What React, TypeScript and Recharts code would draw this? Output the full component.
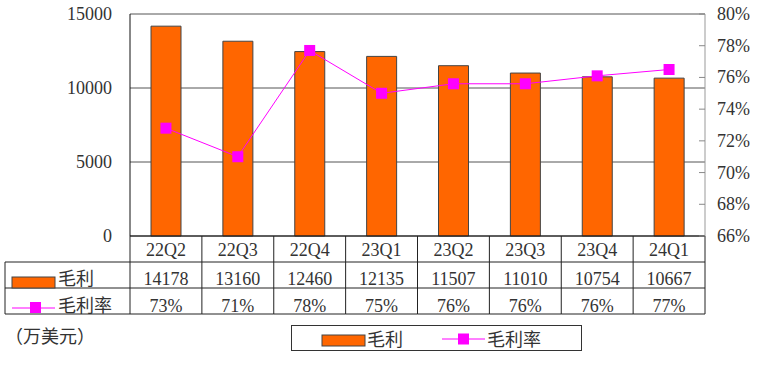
import React from 'react';
import { ComposedChart, Bar, Line, XAxis, YAxis, CartesianGrid } from 'recharts';

const categories = ['22Q2', '22Q3', '22Q4', '23Q1', '23Q2', '23Q3', '23Q4', '24Q1'];
const grossProfit = [14178, 13160, 12460, 12135, 11507, 11010, 10754, 10667];
const grossMargin = [72.8, 71.0, 77.7, 75.0, 75.6, 75.6, 76.1, 76.5];
const grossMarginLabels = ['73%', '71%', '78%', '75%', '76%', '76%', '76%', '77%'];
const leftTicks = [0, 5000, 10000, 15000];
const rightTicks = [66, 68, 70, 72, 74, 76, 78, 80];
const seriesNames = ['毛利', '毛利率'];
const unitLabel = '（万美元）';

const data = categories.map((c, i) => ({
  cat: c,
  profit: grossProfit[i],
  margin: grossMargin[i],
}));

const W = 768;
const H = 366;
const PLOT_LEFT = 130;
const PLOT_RIGHT = 705;
const PLOT_TOP = 14;
const PLOT_BOTTOM = 236;
const ROW_H = 26;
const TABLE_LEFT = 5;
const FONT = "'Liberation Serif', 'Noto Sans CJK SC', serif";
const FS = 18;
const ORANGE = '#FF6600';
const MAGENTA = '#FF00FF';
const LINE_C = '#222';
const TEXT_C = '#333';

const Square = (props: any) => {
  const { cx, cy } = props;
  if (cx == null || cy == null) return null;
  return <rect x={cx - 5.5} y={cy - 5.5} width={11} height={11} fill={MAGENTA} />;
};

const TableTick = (props: any) => {
  const { x, y, payload, index } = props;
  const band = (PLOT_RIGHT - PLOT_LEFT) / categories.length;
  const i = index;
  const l = x - band / 2;
  const r = x + band / 2;
  return (
    <g>
      <line x1={r} y1={y} x2={r} y2={y + 3 * ROW_H} stroke={LINE_C} strokeWidth={1} />
      <line x1={l} y1={y + ROW_H} x2={r} y2={y + ROW_H} stroke={LINE_C} strokeWidth={1} />
      <line x1={l} y1={y + 2 * ROW_H} x2={r} y2={y + 2 * ROW_H} stroke={LINE_C} strokeWidth={1} />
      <line x1={l} y1={y + 3 * ROW_H} x2={r} y2={y + 3 * ROW_H} stroke={LINE_C} strokeWidth={1} />
      {i === 0 && (
        <g>
          <line x1={l} y1={y} x2={l} y2={y + 3 * ROW_H} stroke={LINE_C} strokeWidth={1} />
          <line x1={TABLE_LEFT} y1={y + ROW_H} x2={l} y2={y + ROW_H} stroke={LINE_C} strokeWidth={1} />
          <line x1={TABLE_LEFT} y1={y + 2 * ROW_H} x2={l} y2={y + 2 * ROW_H} stroke={LINE_C} strokeWidth={1} />
          <line x1={TABLE_LEFT} y1={y + 3 * ROW_H} x2={l} y2={y + 3 * ROW_H} stroke={LINE_C} strokeWidth={1} />
          <line x1={TABLE_LEFT} y1={y + ROW_H} x2={TABLE_LEFT} y2={y + 3 * ROW_H} stroke={LINE_C} strokeWidth={1} />
          <rect x={TABLE_LEFT + 7} y={y + ROW_H + 15} width={43} height={11} fill={ORANGE} stroke="#444" strokeWidth={1} />
          <text x={TABLE_LEFT + 53} y={y + ROW_H * 1.5 + 4} fontSize={FS} fontFamily={FONT} fill={TEXT_C} dominantBaseline="central">{seriesNames[0]}</text>
          <line x1={TABLE_LEFT + 7} y1={y + 2 * ROW_H + 20} x2={TABLE_LEFT + 50} y2={y + 2 * ROW_H + 20} stroke={MAGENTA} strokeWidth={1} />
          <rect x={TABLE_LEFT + 25} y={y + 2 * ROW_H + 14} width={11} height={11} fill={MAGENTA} />
          <text x={TABLE_LEFT + 53} y={y + ROW_H * 2.5 + 5} fontSize={FS} fontFamily={FONT} fill={TEXT_C} dominantBaseline="central">{seriesNames[1]}</text>
        </g>
      )}
      <text x={x} y={y + ROW_H / 2 + 1} fontSize={FS} fontFamily={FONT} fill={TEXT_C} textAnchor="middle" dominantBaseline="central">{payload.value}</text>
      <text x={x} y={y + ROW_H * 1.5 + 4} fontSize={FS} fontFamily={FONT} fill={TEXT_C} textAnchor="middle" dominantBaseline="central">{grossProfit[i]}</text>
      <text x={x} y={y + ROW_H * 2.5 + 5} fontSize={FS} fontFamily={FONT} fill={TEXT_C} textAnchor="middle" dominantBaseline="central">{grossMarginLabels[i]}</text>
    </g>
  );
};

const RightTick = (props: any) => {
  const { x, y, payload } = props;
  return (
    <g>
      <line x1={PLOT_RIGHT - 6} y1={y} x2={PLOT_RIGHT} y2={y} stroke="#888" strokeWidth={1} />
      <text x={x} y={y} fontSize={FS} fontFamily={FONT} fill={TEXT_C} textAnchor="start" dominantBaseline="central">{`${payload.value}%`}</text>
    </g>
  );
};

const LeftTick = (props: any) => {
  const { x, y, payload } = props;
  return (
    <text x={x} y={y} fontSize={FS} fontFamily={FONT} fill={TEXT_C} textAnchor="end" dominantBaseline="central">{payload.value}</text>
  );
};

export default function App() {
  return (
    <div style={{ position: 'absolute', left: 0, top: 0, width: W, height: H, background: '#fff' }}>
      <ComposedChart
        width={W}
        height={H}
        data={data}
        margin={{ top: PLOT_TOP, right: 0, left: 0, bottom: 0 }}
      >
        <CartesianGrid yAxisId="left" horizontal vertical={false} stroke="#555" strokeWidth={1} />
        <XAxis
          dataKey="cat"
          height={H - PLOT_BOTTOM}
          interval={0}
          tickLine={false}
          tickSize={0}
          tickMargin={0}
          axisLine={{ stroke: '#111' }}
          tick={<TableTick />}
        />
        <YAxis
          yAxisId="left"
          orientation="left"
          width={PLOT_LEFT}
          domain={[0, 15000]}
          ticks={leftTicks}
          tickLine={false}
          tickSize={0}
          tickMargin={18}
          axisLine={{ stroke: '#111' }}
          tick={<LeftTick />}
        />
        <YAxis
          yAxisId="right"
          orientation="right"
          width={W - PLOT_RIGHT}
          domain={[66, 80]}
          ticks={rightTicks}
          tickLine={false}
          tickSize={0}
          tickMargin={12}
          axisLine={{ stroke: '#999' }}
          tick={<RightTick />}
        />
        <Bar
          yAxisId="left"
          dataKey="profit"
          name={seriesNames[0]}
          fill={ORANGE}
          stroke="#444"
          strokeWidth={1}
          barSize={30}
          isAnimationActive={false}
        />
        <Line
          yAxisId="right"
          dataKey="margin"
          name={seriesNames[1]}
          stroke={MAGENTA}
          strokeWidth={1}
          dot={<Square />}
          activeDot={false}
          isAnimationActive={false}
        />
      </ComposedChart>
      <div
        style={{
          position: 'absolute',
          left: 5,
          top: 325,
          fontSize: FS,
          fontFamily: FONT,
          color: TEXT_C,
          lineHeight: '24px',
          whiteSpace: 'nowrap',
        }}
      >
        {unitLabel}
      </div>
      <svg style={{ position: 'absolute', left: 290, top: 324 }} width={294} height={29}>
        <rect x={1.5} y={1.5} width={290} height={25} fill="#fff" stroke="#333" strokeWidth={1} />
        <rect x={32} y={11} width={43} height={11} fill={ORANGE} stroke="#444" strokeWidth={1} />
        <text x={77} y={16} fontSize={FS} fontFamily={FONT} fill={TEXT_C} dominantBaseline="central">{seriesNames[0]}</text>
        <line x1={152} y1={15} x2={195} y2={15} stroke={MAGENTA} strokeWidth={1} />
        <rect x={168} y={9.5} width={11} height={11} fill={MAGENTA} />
        <text x={197} y={16} fontSize={FS} fontFamily={FONT} fill={TEXT_C} dominantBaseline="central">{seriesNames[1]}</text>
      </svg>
    </div>
  );
}
